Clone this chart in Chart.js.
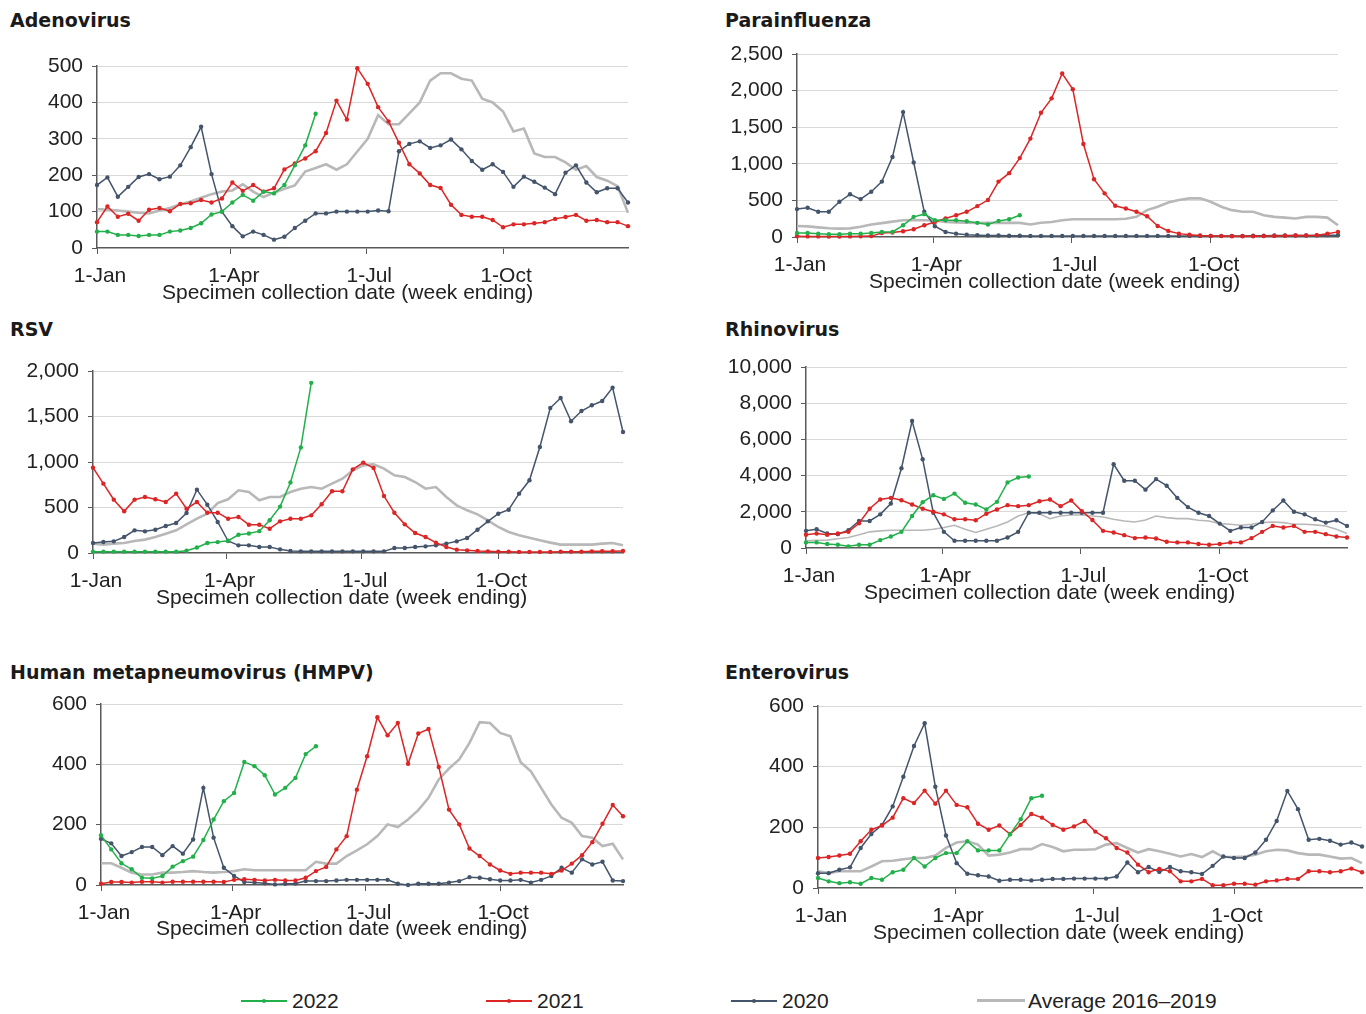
<!DOCTYPE html>
<html>
<head>
<meta charset="utf-8">
<script src="https://cdn.jsdelivr.net/npm/chart.js@4.4.1/dist/chart.umd.min.js"></script>
<style>
html, body { margin: 0; padding: 0; background: #fff; }
body { width: 1366px; height: 1014px; position: relative; overflow: hidden; font-family: "Liberation Sans", Arial, sans-serif; }
.title { position: absolute; font: bold 19px "DejaVu Sans", Verdana, sans-serif; color: #1a1a1a; line-height: 24px; white-space: nowrap; }
.xtitle { position: absolute; font-size: 21px; line-height: 24px; color: #222; white-space: nowrap; }
canvas { position: absolute; }
.leg { position: absolute; top: 988px; height: 26px; line-height: 26px; font-size: 21px; color: #222; white-space: nowrap; }
.leg .ln { position: absolute; left: 0; top: 12px; width: 46px; height: 2px; }
.leg .dot { position: absolute; left: 21px; top: 11px; width: 4px; height: 4px; border-radius: 50%; }
.leg .tx { position: absolute; left: 51px; top: 0; }
</style>
</head>
<body>

<div class="title" style="left:10px;top:8px">Adenovirus</div>
<div class="title" style="left:725px;top:8px">Parainfluenza</div>
<div class="title" style="left:10px;top:317px">RSV</div>
<div class="title" style="left:725px;top:317px">Rhinovirus</div>
<div class="title" style="left:10px;top:660px">Human metapneumovirus (HMPV)</div>
<div class="title" style="left:725px;top:660px">Enterovirus</div>

<canvas id="adeno"></canvas>
<canvas id="piv"></canvas>
<canvas id="rsv"></canvas>
<canvas id="rhino"></canvas>
<canvas id="hmpv"></canvas>
<canvas id="entero"></canvas>

<div class="xtitle" style="left:162px;top:280px">Specimen collection date (week ending)</div>
<div class="xtitle" style="left:869px;top:269px">Specimen collection date (week ending)</div>
<div class="xtitle" style="left:156px;top:585px">Specimen collection date (week ending)</div>
<div class="xtitle" style="left:864px;top:580px">Specimen collection date (week ending)</div>
<div class="xtitle" style="left:156px;top:916px">Specimen collection date (week ending)</div>
<div class="xtitle" style="left:873px;top:920px">Specimen collection date (week ending)</div>

<div class="leg" style="left:241px"><div class="ln" style="background:#22b04b"></div><div class="dot" style="background:#22b04b"></div><span class="tx">2022</span></div>
<div class="leg" style="left:486px"><div class="ln" style="background:#dc2525"></div><div class="dot" style="background:#dc2525"></div><span class="tx">2021</span></div>
<div class="leg" style="left:731px"><div class="ln" style="background:#44546a"></div><div class="dot" style="background:#44546a"></div><span class="tx">2020</span></div>
<div class="leg" style="left:977px"><div class="ln" style="background:#b8b8b8;height:3px;top:11px;width:48px"></div><span class="tx" style="left:51px">Average 2016–2019</span></div>

<script>
// x axis: days since 1 Jan, one point per week
var weeks = [];
for (var w = 0; w < 52; w++) weeks.push(w * 7);
var xTickDays = [0, 90, 181, 273];
var xTickLabels = ['1-Jan', '1-Apr', '1-Jul', '1-Oct'];

// Adenovirus
var adeno2022 = [45,45,36,36,33,36,36,45,48,55,68,92,100,125,146,130,155,150,173,227,282,369];
var adeno2021 = [71,114,86,94,75,105,110,101,121,123,132,125,136,180,157,173,155,164,216,232,246,266,316,405,353,494,451,387,348,289,230,205,173,165,119,91,86,86,77,57,65,65,68,71,80,85,91,75,77,71,71,60];
var adeno2020 = [173,194,141,168,195,203,189,196,227,277,333,203,100,60,32,45,36,23,31,55,75,95,95,100,100,100,100,103,101,266,286,293,275,282,298,271,239,215,230,209,168,196,182,166,148,207,227,180,153,164,164,125];
var adenoAvg = [107,105,103,100,97,95,103,110,120,128,138,148,155,158,175,155,140,152,163,172,210,220,230,215,230,265,300,365,340,340,370,400,460,480,480,465,460,410,400,375,320,328,260,250,250,235,215,225,195,185,170,97];

// Parainfluenza
var piv2022 = [55,55,46,37,37,46,46,55,69,69,160,275,312,229,229,229,216,193,170,220,243,298];
var piv2021 = [10,8,8,6,6,8,10,12,55,60,78,105,160,206,252,298,344,422,505,757,872,1078,1344,1697,1894,2234,2018,1271,789,596,427,390,344,284,151,83,46,32,20,15,12,10,10,10,12,15,18,20,22,25,45,70];
var piv2020 = [381,399,344,344,482,583,518,619,757,1092,1706,1018,344,147,69,46,32,25,20,20,18,18,15,15,15,15,15,15,15,15,15,15,15,15,15,15,15,15,15,15,15,15,15,18,18,20,20,20,20,22,25,25];
var pivAvg = [151,145,132,120,115,118,140,170,190,210,229,232,229,225,206,200,195,193,193,193,193,193,170,195,205,229,243,243,243,243,243,250,275,367,413,472,505,528,528,482,413,367,344,344,298,275,265,252,275,275,265,160];

// RSV
var rsv2022 = [15,15,15,15,15,15,15,15,15,25,60,110,120,135,200,215,240,360,510,775,1160,1870];
var rsv2021 = [938,762,586,458,586,615,590,560,652,487,560,443,443,377,396,311,311,267,348,377,377,414,535,678,678,919,993,934,626,443,315,220,176,114,66,37,29,22,18,15,15,12,12,12,12,15,15,15,18,20,20,22];
var rsv2020 = [110,121,128,176,249,238,256,297,330,440,696,531,341,132,84,84,66,66,40,22,18,18,18,18,18,18,18,18,18,55,55,66,73,84,103,128,165,256,348,432,476,652,799,1165,1593,1703,1447,1560,1623,1670,1817,1330];
var rsvAvg = [103,92,103,110,132,147,176,212,249,315,377,432,549,590,689,670,579,615,615,670,707,725,707,762,817,908,963,974,927,853,835,780,707,725,615,524,469,425,359,286,231,194,168,139,114,92,92,92,92,103,110,84];

// Rhinovirus
var rhino2022 = [310,310,219,182,91,182,182,437,638,893,1767,2532,2914,2714,3005,2496,2404,2131,2550,3625,3898,3953];
var rhino2021 = [729,801,729,801,893,1366,2168,2678,2769,2641,2404,2168,2004,1858,1585,1585,1530,1894,2131,2368,2313,2368,2587,2678,2313,2623,2040,1548,947,856,710,546,583,528,346,310,310,219,182,219,310,310,546,893,1220,1129,1220,893,893,765,638,583];
var rhino2020 = [947,1038,801,765,984,1494,1494,1858,2459,4408,7013,4900,1949,893,401,401,401,401,401,583,893,1949,1949,1949,1949,1949,1949,1949,1949,4627,3716,3716,3224,3807,3443,2769,2259,1949,1767,1348,947,1129,1129,1439,2077,2623,2004,1858,1585,1403,1530,1220];
var rhinoAvg = [401,420,437,510,583,729,893,947,984,984,984,984,1038,1129,1257,1038,856,1038,1220,1439,1767,1949,1894,1621,1767,1821,1821,1767,1712,1585,1494,1439,1548,1767,1676,1621,1621,1530,1494,1348,1311,1257,1311,1403,1439,1403,1311,1311,1275,1220,1038,801];

// Human metapneumovirus
var hmpv2022 = [165,118,72,52,24,22,30,61,79,94,149,217,278,305,408,394,364,300,322,355,434,460];
var hmpv2021 = [4,10,10,8,11,11,8,11,11,11,11,11,10,17,19,17,15,17,15,15,24,46,60,118,162,316,427,556,496,537,402,502,517,391,250,201,121,96,68,48,37,41,41,41,37,48,71,99,142,203,265,228];
var hmpv2020 = [153,138,96,109,126,126,99,129,104,151,322,157,57,30,10,8,6,2,4,5,13,13,13,15,17,17,17,17,17,4,0,4,4,4,8,13,26,24,19,15,15,17,8,17,30,57,41,85,68,77,15,13];
var hmpvAvg = [72,72,57,41,35,35,41,41,43,46,43,41,43,46,52,49,49,49,49,49,49,77,71,71,96,115,135,162,201,192,217,248,289,350,386,416,471,540,537,504,493,407,377,322,267,223,206,162,157,129,137,85];

// Enterovirus
var ent2022 = [33,22,16,19,14,33,27,52,60,99,71,99,115,115,154,124,124,124,177,227,296,304];
var ent2021 = [99,102,107,113,154,192,206,232,296,280,321,278,321,274,266,212,192,206,178,208,244,232,208,192,203,221,186,164,132,117,77,52,63,55,22,22,30,9,9,14,14,11,22,25,30,30,55,55,52,55,64,52];
var ent2020 = [49,49,60,68,132,178,208,269,367,468,543,334,173,82,47,42,38,24,27,27,25,27,30,30,31,31,31,31,38,84,52,69,53,69,55,52,46,73,104,99,99,117,159,221,320,260,159,162,156,143,150,137];
var entAvg = [55,49,55,55,55,71,88,90,95,99,99,107,132,150,154,143,107,110,117,128,128,145,135,121,126,126,128,143,148,132,117,128,121,113,104,112,102,121,102,102,104,110,121,126,124,115,110,110,104,97,99,82];

var GREEN = '#22b04b', RED = '#dc2525', SLATE = '#44546a', GREY = '#b8b8b8';
var AXIS = '#595959', TEXT = '#222';
var FONT = '"Liberation Sans", Arial, sans-serif';

Chart.defaults.font.family = FONT;
Chart.defaults.color = TEXT;

var Y_W = 80, X_H = 57, PAD_TOP = 26;

function pts(arr) {
    return arr.map(function (v, i) { return { x: weeks[i], y: v }; });
}

function lineSet(label, arr, color) {
    return {
        label: label, data: pts(arr), borderColor: color, backgroundColor: color,
        borderWidth: 1.5, pointRadius: 2.2, pointBorderWidth: 0,
        pointBackgroundColor: color, tension: 0, clip: false
    };
}

function makePanel(id, plot, yMax, yStep, s22, s21, s20, avg, avgWidth) {
    var cv = document.getElementById(id);
    var left = plot.l - Y_W;
    var top = plot.t - PAD_TOP;
    var right = Math.min(plot.r + 8, 1366);
    cv.width = right - left;
    cv.height = (plot.b - plot.t) + PAD_TOP + X_H;
    cv.style.left = left + 'px';
    cv.style.top = top + 'px';

    new Chart(cv, {
        type: 'line',
        data: {
            datasets: [
                lineSet('2022', s22, GREEN),
                lineSet('2021', s21, RED),
                lineSet('2020', s20, SLATE),
                { label: 'Average 2016–2019', data: pts(avg), borderColor: GREY, borderWidth: avgWidth,
                  pointRadius: 0, tension: 0, clip: false }
            ]
        },
        options: {
            responsive: false,
            animation: false,
            devicePixelRatio: 1,
            layout: { padding: { top: PAD_TOP, right: right - plot.r, left: 0, bottom: 0 } },
            plugins: { legend: { display: false }, tooltip: { enabled: false } },
            scales: {
                x: {
                    type: 'linear', min: 0, max: 357,
                    afterBuildTicks: function (s) {
                        s.ticks = xTickDays.map(function (d) { return { value: d }; });
                    },
                    afterFit: function (s) { s.height = X_H; },
                    ticks: {
                        autoSkip: false, maxRotation: 0, padding: 10, labelOffset: 3,
                        font: { size: 21 }, color: TEXT,
                        callback: function (v) { return xTickLabels[xTickDays.indexOf(v)]; }
                    },
                    grid: { drawOnChartArea: false, drawTicks: true, tickLength: 6, tickColor: AXIS, color: AXIS },
                    border: { color: AXIS, width: 1.5 }
                },
                y: {
                    min: 0, max: yMax,
                    afterFit: function (s) { s.width = Y_W; },
                    ticks: { stepSize: yStep, padding: 9, font: { size: 21 }, color: TEXT },
                    grid: {
                        color: function (c) { return c.tick && c.tick.value === 0 ? 'rgba(0,0,0,0)' : '#d9d9d9'; },
                        tickLength: 5, tickColor: AXIS
                    },
                    border: { color: AXIS, width: 1.5 }
                }
            }
        }
    });
}

makePanel('adeno',  { l: 97,  r: 628,  t: 66,  b: 248 }, 500,   100,  adeno2022, adeno2021, adeno2020, adenoAvg, 2.6);
makePanel('piv',    { l: 797, r: 1338, t: 54,  b: 237 }, 2500,  500,  piv2022,   piv2021,   piv2020,   pivAvg,   2.6);
makePanel('rsv',    { l: 93,  r: 623,  t: 371, b: 553 }, 2000,  500,  rsv2022,   rsv2021,   rsv2020,   rsvAvg,   2.6);
makePanel('rhino',  { l: 806, r: 1347, t: 367, b: 548 }, 10000, 2000, rhino2022, rhino2021, rhino2020, rhinoAvg, 1.6);
makePanel('hmpv',   { l: 101, r: 623,  t: 704, b: 885 }, 600,   200,  hmpv2022,  hmpv2021,  hmpv2020,  hmpvAvg,  2.6);
makePanel('entero', { l: 818, r: 1362, t: 706, b: 888 }, 600,   200,  ent2022,   ent2021,   ent2020,   entAvg,   2.6);
</script>
</body>
</html>
